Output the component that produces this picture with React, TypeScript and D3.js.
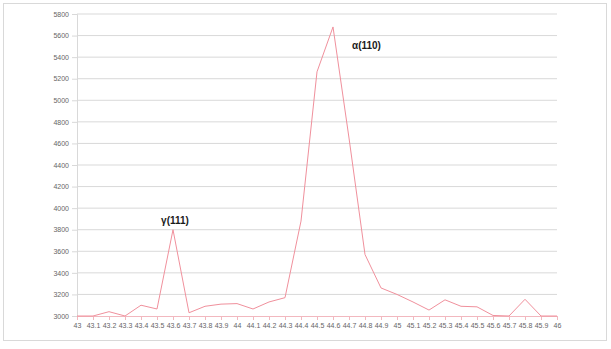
import React, { useRef, useEffect } from "react";
import * as d3 from "d3";

// 2-theta positions (deg) and counts
const angles = [
  "43", "43.1", "43.2", "43.3", "43.4", "43.5", "43.6", "43.7", "43.8", "43.9",
  "44", "44.1", "44.2", "44.3", "44.4", "44.5", "44.6", "44.7", "44.8", "44.9",
  "45", "45.1", "45.2", "45.3", "45.4", "45.5", "45.6", "45.7", "45.8", "45.9", "46",
];
const counts = [
  3000, 3000, 3040, 3000, 3100, 3065, 3800, 3030, 3090, 3110,
  3115, 3065, 3130, 3170, 3880, 5264, 5680, 4650, 3570, 3260,
  3200, 3130, 3055, 3150, 3090, 3085, 3005, 3000, 3155, 3000, 3000,
];
const yTicks = [3000, 3200, 3400, 3600, 3800, 4000, 4200, 4400, 4600, 4800, 5000, 5200, 5400, 5600, 5800];
const peaks = [
  { name: "γ(111)", index: 6 },
  { name: "α(110)", index: 16 },
];

const W = 611;
const H = 349;

const App = () => {
  const ref = useRef(null);

  useEffect(() => {
    const margin = { top: 14, right: 54, bottom: 33, left: 77 };
    const width = W - margin.left - margin.right;
    const height = H - margin.top - margin.bottom;

    const svg = d3.select(ref.current);
    svg.selectAll("*").remove();

    // chart frame
    svg
      .append("rect")
      .attr("x", 3.5)
      .attr("y", 3.5)
      .attr("width", W - 8)
      .attr("height", H - 12)
      .attr("fill", "#fff")
      .attr("stroke", "#d9d9d9");

    const g = svg
      .append("g")
      .attr("transform", `translate(${margin.left},${margin.top})`);

    const x = d3
      .scalePoint()
      .domain(angles)
      .range([0, width]);

    const y = d3.scaleLinear().domain([3000, 5800]).range([height, 0]);

    // gridlines
    g.append("g")
      .selectAll("line")
      .data(yTicks.slice(1))
      .join("line")
      .attr("x1", 0)
      .attr("x2", width)
      .attr("y1", (d) => y(d))
      .attr("y2", (d) => y(d))
      .attr("stroke", "#d9d9d9")
      .attr("stroke-width", 1);

    // y axis
    const yAxis = g
      .append("g")
      .call(
        d3
          .axisLeft(y)
          .tickValues(yTicks)
          .tickFormat(d3.format("d"))
          .tickSize(5)
          .tickPadding(3)
      );
    yAxis.select(".domain").attr("stroke", "#d9d9d9");
    yAxis.selectAll(".tick line").attr("stroke", "#d9d9d9");
    yAxis
      .selectAll("text")
      .attr("fill", "#666")
      .style("font-family", "Liberation Sans, Arial, sans-serif")
      .style("font-size", "7px");

    // x axis
    const xAxis = g
      .append("g")
      .attr("transform", `translate(0,${height})`)
      .call(d3.axisBottom(x).tickSize(4).tickPadding(3));
    xAxis.select(".domain").attr("stroke", "#f2b8bf");
    xAxis.selectAll(".tick line").attr("stroke", "#f2b8bf");
    xAxis
      .selectAll("text")
      .attr("fill", "#666")
      .style("font-family", "Liberation Sans, Arial, sans-serif")
      .style("font-size", "7px");

    // data line
    const line = d3
      .line()
      .x((d, i) => x(angles[i]))
      .y((d) => y(d));

    g.append("path")
      .datum(counts)
      .attr("d", line)
      .attr("fill", "none")
      .attr("stroke", "#f0909c")
      .attr("stroke-width", 1);

    // peak labels
    g.append("text")
      .attr("x", x(angles[peaks[0].index]) + 2)
      .attr("y", y(counts[peaks[0].index]) - 6)
      .attr("text-anchor", "middle")
      .attr("fill", "#1a1a1a")
      .style("font-family", "Liberation Sans, Arial, sans-serif")
      .style("font-size", "10px")
      .style("font-weight", "bold")
      .text(peaks[0].name);

    g.append("text")
      .attr("x", x(angles[peaks[1].index]) + 19)
      .attr("y", y(counts[peaks[1].index]) + 22)
      .attr("fill", "#1a1a1a")
      .style("font-family", "Liberation Sans, Arial, sans-serif")
      .style("font-size", "10px")
      .style("font-weight", "bold")
      .text(peaks[1].name);
  }, []);

  return (
    <svg
      ref={ref}
      width={W}
      height={H}
      style={{ position: "absolute", left: 0, top: 0 }}
    ></svg>
  );
};

export default App;
